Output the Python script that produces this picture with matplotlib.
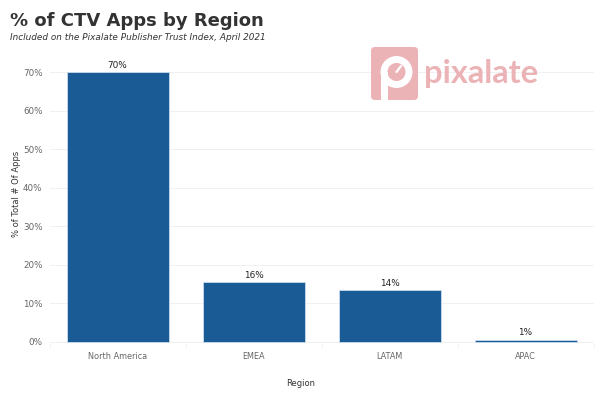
import matplotlib.pyplot as plt
from matplotlib.patches import FancyBboxPatch, Circle, Rectangle

regions = ['North America', 'EMEA', 'LATAM', 'APAC']
shares = [70.0, 15.6, 13.5, 0.6]
share_labels = ['70%', '16%', '14%', '1%']
yticks = [0, 10, 20, 30, 40, 50, 60, 70]

bar_color = '#1a5b96'
logo_color = '#ebb3b6'

fig = plt.figure(figsize=(6, 3.99), dpi=100)
ax = fig.add_axes([49.5 / 600, 1 - 344 / 399, 544 / 600, 282 / 399])

x = range(len(regions))
ax.bar(x, shares, width=0.75, color=bar_color, edgecolor='#c9dcee', linewidth=0.6, zorder=3)
for i, (v, lab) in enumerate(zip(shares, share_labels)):
    ax.text(i, v + 0.6, lab, ha='center', va='bottom', fontsize=6.4, color='#222222')

ax.set_xlim(-0.5, len(regions) - 0.5)
ax.set_ylim(-0.52, 72.6)
ax.set_yticks(yticks)
ax.set_yticklabels(['%d%%' % t for t in yticks])
ax.set_xticks(list(x))
ax.set_xticklabels(regions)
ax.set_xticks([i - 0.5 for i in range(len(regions) + 1)], minor=True)
ax.tick_params(axis='x', which='major', length=0, labelsize=5.9, colors='#666666', pad=6)
ax.tick_params(axis='x', which='minor', length=3, color='#eeeeee', width=0.6)
ax.tick_params(axis='y', length=0, labelsize=6.3, colors='#666666', pad=5)
ax.grid(axis='y', color='#f0f0f0', linewidth=0.7, zorder=0)
for s in ax.spines.values():
    s.set_visible(False)

fig.text(301 / 600, 1 - 384 / 399, 'Region', fontsize=6, color='#333333',
         ha='center', va='center')
fig.text(17 / 600, 1 - 194 / 399, '% of Total # Of Apps', fontsize=6, color='#333333',
         ha='center', va='center', rotation=90)

fig.text(10 / 600, 1 - 21 / 399, '% of CTV Apps by Region', fontsize=13, fontweight='bold',
         color='#333333', va='center', ha='left')
fig.text(10 / 600, 1 - 37 / 399, 'Included on the Pixalate Publisher Trust Index, April 2021',
         fontsize=6.4, style='italic', color='#333333', va='center', ha='left')

# logo
lax = fig.add_axes([0, 0, 1, 1], zorder=5)
lax.set_xlim(0, 600)
lax.set_ylim(399, 0)
lax.axis('off')
lax.add_patch(FancyBboxPatch((373, 49), 43, 49, boxstyle='round,pad=2,rounding_size=4',
                             fc=logo_color, ec='none'))
lax.add_patch(Circle((396.5, 72), 12.5, fc='none', ec='white', lw=5))
lax.add_patch(Rectangle((381, 72), 7, 28, fc='white', ec='none'))
lax.plot([396.5, 401], [72, 66], color='white', lw=1.6, solid_capstyle='round')
lax.text(424, 74, 'pixalate', fontsize=23.5, color=logo_color, family='Lato',
         fontweight='bold', va='center', ha='left')

fig.savefig('out.png', dpi=100)
